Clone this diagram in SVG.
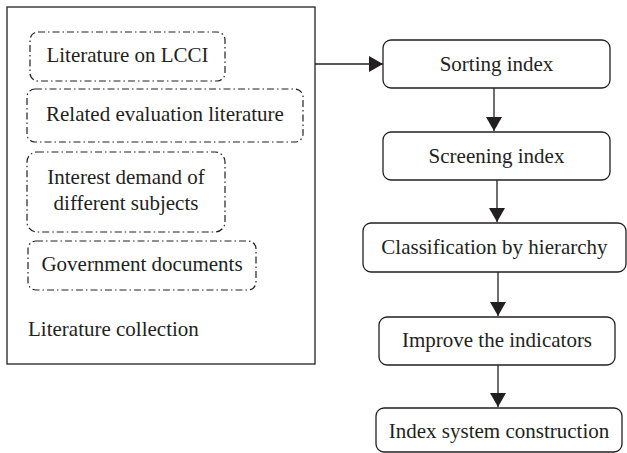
<svg xmlns="http://www.w3.org/2000/svg" width="627" height="453" viewBox="0 0 627 453">
<style>
text{font-family:"Liberation Serif","Times New Roman",serif;font-size:21px;fill:#231f20;text-anchor:middle}
.box{fill:#fff;stroke:#231f20;stroke-width:1.3}
.dash{fill:none;stroke:#231f20;stroke-width:1.2;stroke-dasharray:7 3 1.5 3}
.ln{stroke:#231f20;stroke-width:1.3;fill:none}
</style>
<defs>
<marker id="ah" viewBox="0 0 14 16" refX="14" refY="8" markerWidth="14" markerHeight="16" markerUnits="userSpaceOnUse" orient="auto">
<path d="M0,0 L14,8 L0,16 Z" fill="#231f20"/>
</marker>
</defs>
<rect width="627" height="453" fill="#fff"/>
<g id="literature-collection">
<rect class="box" x="7" y="7" width="308" height="357"/>
<text x="28" y="336" style="text-anchor:start">Literature collection</text>
</g>
<g id="lit-lcci">
<rect class="dash" x="30" y="32" width="195" height="49" rx="8"/>
<text x="127.5" y="62">Literature on LCCI</text>
</g>
<g id="related-eval">
<rect class="dash" x="27" y="89" width="276" height="53" rx="8"/>
<text x="165" y="121">Related evaluation literature</text>
</g>
<g id="interest-demand">
<rect class="dash" x="27" y="152" width="198" height="80" rx="10"/>
<text x="126" y="184">Interest demand of</text>
<text x="126" y="210">different subjects</text>
</g>
<g id="gov-docs">
<rect class="dash" x="28" y="241" width="228" height="49" rx="8"/>
<text x="142" y="271">Government documents</text>
</g>
<g id="sorting">
<rect class="box" x="383" y="40" width="227" height="48" rx="8"/>
<text x="496.5" y="71">Sorting index</text>
</g>
<g id="screening">
<rect class="box" x="383" y="132" width="227" height="48" rx="8"/>
<text x="496.5" y="163">Screening index</text>
</g>
<g id="classification">
<rect class="box" x="363" y="223" width="263" height="49" rx="8"/>
<text x="494.5" y="254">Classification by hierarchy</text>
</g>
<g id="improve">
<rect class="box" x="379" y="317" width="236" height="48" rx="8"/>
<text x="497" y="347">Improve the indicators</text>
</g>
<g id="index-system">
<rect class="box" x="376" y="408" width="246" height="44" rx="8"/>
<text x="499" y="438">Index system construction</text>
</g>
<g id="connectors">
<line class="ln" x1="315" y1="64" x2="383" y2="64" marker-end="url(#ah)"/>
<line class="ln" x1="494" y1="88" x2="494" y2="131" marker-end="url(#ah)"/>
<line class="ln" x1="497" y1="180" x2="497" y2="222" marker-end="url(#ah)"/>
<line class="ln" x1="498" y1="272" x2="498" y2="316" marker-end="url(#ah)"/>
<line class="ln" x1="498" y1="365" x2="498" y2="407" marker-end="url(#ah)"/>
</g>
</svg>
